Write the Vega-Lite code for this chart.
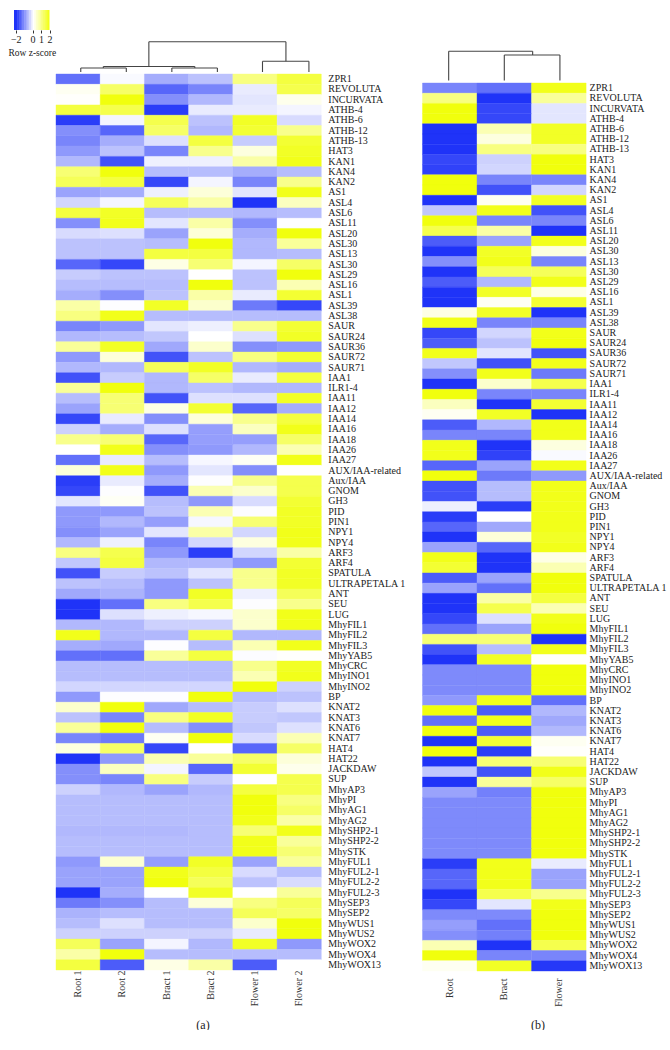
{"$schema":"https://vega.github.io/schema/vega-lite/v6.json","background":"white","padding":{"left":7,"top":10,"right":0,"bottom":0},"autosize":{"type":"pad"},"config":{"view":{"stroke":null},"font":"Liberation Serif"},"spacing":15.5,
"datasets":{
"key":[{"z":-2.2,"z2":-1.95},{"z":-2.0,"z2":-1.75},{"z":-1.8,"z2":-1.55},{"z":-1.6,"z2":-1.35},{"z":-1.4,"z2":-1.15},{"z":-1.2,"z2":-0.95},{"z":-1.0,"z2":-0.75},{"z":-0.8,"z2":-0.55},{"z":-0.6,"z2":-0.35},{"z":-0.4,"z2":-0.15},{"z":-0.2,"z2":0.05},{"z":0,"z2":0.25},{"z":0.2,"z2":0.45},{"z":0.4,"z2":0.65},{"z":0.6,"z2":0.85},{"z":0.8,"z2":1.05},{"z":1.0,"z2":1.25},{"z":1.2,"z2":1.45},{"z":1.4,"z2":1.65},{"z":1.6,"z2":1.85},{"z":1.8,"z2":2.0}],
"dendA":[{"x":2.1,"x2":5.2,"y":30.3,"y2":30.3},{"x":2.1,"x2":2.1,"y":5.5,"y2":30.3},{"x":5.2,"x2":5.2,"y":10.7,"y2":30.3},{"x":4.67,"x2":5.72,"y":10.7,"y2":10.7},{"x":4.67,"x2":4.67,"y":0,"y2":10.7},{"x":5.72,"x2":5.72,"y":0,"y2":10.7},{"x":1.07,"x2":3.14,"y":5.5,"y2":5.5},{"x":1.07,"x2":1.07,"y":4,"y2":5.5},{"x":3.14,"x2":3.14,"y":4,"y2":5.5},{"x":0.56,"x2":1.59,"y":4,"y2":4},{"x":0.56,"x2":0.56,"y":0,"y2":4},{"x":1.59,"x2":1.59,"y":0,"y2":4},{"x":2.62,"x2":3.65,"y":4,"y2":4},{"x":2.62,"x2":2.62,"y":0,"y2":4},{"x":3.65,"x2":3.65,"y":0,"y2":4}],
"dendB":[{"x":0.48,"x2":2.02,"y":30.7,"y2":30.7},{"x":0.48,"x2":0.48,"y":1.5,"y2":30.7},{"x":2.02,"x2":2.02,"y":27,"y2":30.7},{"x":1.5,"x2":2.52,"y":27,"y2":27},{"x":1.5,"x2":1.5,"y":1.5,"y2":27},{"x":2.52,"x2":2.52,"y":1.5,"y2":27}],
"a":[
{"gene":"ZPR1","col":"Root 1","z":-1.4},{"gene":"ZPR1","col":"Root 2","z":-0.05},{"gene":"ZPR1","col":"Bract 1","z":-0.8},{"gene":"ZPR1","col":"Bract 2","z":-0.6},{"gene":"ZPR1","col":"Flower 1","z":1.0},{"gene":"ZPR1","col":"Flower 2","z":1.5},
{"gene":"REVOLUTA","col":"Root 1","z":0.1},{"gene":"REVOLUTA","col":"Root 2","z":1.2},{"gene":"REVOLUTA","col":"Bract 1","z":-1.5},{"gene":"REVOLUTA","col":"Bract 2","z":-1.2},{"gene":"REVOLUTA","col":"Flower 1","z":-0.2},{"gene":"REVOLUTA","col":"Flower 2","z":1.4},
{"gene":"INCURVATA","col":"Root 1","z":0.02},{"gene":"INCURVATA","col":"Root 2","z":1.9},{"gene":"INCURVATA","col":"Bract 1","z":-1.1},{"gene":"INCURVATA","col":"Bract 2","z":-0.7},{"gene":"INCURVATA","col":"Flower 1","z":-0.25},{"gene":"INCURVATA","col":"Flower 2","z":0.15},
{"gene":"ATHB-4","col":"Root 1","z":1.5},{"gene":"ATHB-4","col":"Root 2","z":1.4},{"gene":"ATHB-4","col":"Bract 1","z":-1.9},{"gene":"ATHB-4","col":"Bract 2","z":-0.2},{"gene":"ATHB-4","col":"Flower 1","z":-0.2},{"gene":"ATHB-4","col":"Flower 2","z":-0.1},
{"gene":"ATHB-6","col":"Root 1","z":-1.9},{"gene":"ATHB-6","col":"Root 2","z":-0.1},{"gene":"ATHB-6","col":"Bract 1","z":1.4},{"gene":"ATHB-6","col":"Bract 2","z":-0.6},{"gene":"ATHB-6","col":"Flower 1","z":1.7},{"gene":"ATHB-6","col":"Flower 2","z":-0.35},
{"gene":"ATHB-12","col":"Root 1","z":-1.1},{"gene":"ATHB-12","col":"Root 2","z":-1.5},{"gene":"ATHB-12","col":"Bract 1","z":1.2},{"gene":"ATHB-12","col":"Bract 2","z":-0.7},{"gene":"ATHB-12","col":"Flower 1","z":1.6},{"gene":"ATHB-12","col":"Flower 2","z":0.9},
{"gene":"ATHB-13","col":"Root 1","z":-1.2},{"gene":"ATHB-13","col":"Root 2","z":-0.8},{"gene":"ATHB-13","col":"Bract 1","z":-0.3},{"gene":"ATHB-13","col":"Bract 2","z":1.5},{"gene":"ATHB-13","col":"Flower 1","z":-0.5},{"gene":"ATHB-13","col":"Flower 2","z":1.6},
{"gene":"HAT3","col":"Root 1","z":-1.0},{"gene":"HAT3","col":"Root 2","z":-0.6},{"gene":"HAT3","col":"Bract 1","z":-1.2},{"gene":"HAT3","col":"Bract 2","z":0.9},{"gene":"HAT3","col":"Flower 1","z":0.25},{"gene":"HAT3","col":"Flower 2","z":1.7},
{"gene":"KAN1","col":"Root 1","z":-0.7},{"gene":"KAN1","col":"Root 2","z":-1.7},{"gene":"KAN1","col":"Bract 1","z":-0.15},{"gene":"KAN1","col":"Bract 2","z":-0.15},{"gene":"KAN1","col":"Flower 1","z":0.7},{"gene":"KAN1","col":"Flower 2","z":1.8},
{"gene":"KAN4","col":"Root 1","z":1.1},{"gene":"KAN4","col":"Root 2","z":1.9},{"gene":"KAN4","col":"Bract 1","z":-0.65},{"gene":"KAN4","col":"Bract 2","z":-0.65},{"gene":"KAN4","col":"Flower 1","z":-0.8},{"gene":"KAN4","col":"Flower 2","z":-0.65},
{"gene":"KAN2","col":"Root 1","z":1.3},{"gene":"KAN2","col":"Root 2","z":1.5},{"gene":"KAN2","col":"Bract 1","z":-1.8},{"gene":"KAN2","col":"Bract 2","z":-0.1},{"gene":"KAN2","col":"Flower 1","z":-1.2},{"gene":"KAN2","col":"Flower 2","z":0.9},
{"gene":"AS1","col":"Root 1","z":-0.9},{"gene":"AS1","col":"Root 2","z":-0.8},{"gene":"AS1","col":"Bract 1","z":-0.15},{"gene":"AS1","col":"Bract 2","z":0.3},{"gene":"AS1","col":"Flower 1","z":-0.25},{"gene":"AS1","col":"Flower 2","z":1.8},
{"gene":"ASL4","col":"Root 1","z":-0.4},{"gene":"ASL4","col":"Root 2","z":-0.1},{"gene":"ASL4","col":"Bract 1","z":1.3},{"gene":"ASL4","col":"Bract 2","z":0.7},{"gene":"ASL4","col":"Flower 1","z":-2.0},{"gene":"ASL4","col":"Flower 2","z":0.5},
{"gene":"ASL6","col":"Root 1","z":1.5},{"gene":"ASL6","col":"Root 2","z":1.7},{"gene":"ASL6","col":"Bract 1","z":-0.65},{"gene":"ASL6","col":"Bract 2","z":-0.65},{"gene":"ASL6","col":"Flower 1","z":-0.7},{"gene":"ASL6","col":"Flower 2","z":-0.65},
{"gene":"ASL11","col":"Root 1","z":-1.1},{"gene":"ASL11","col":"Root 2","z":1.8},{"gene":"ASL11","col":"Bract 1","z":-0.25},{"gene":"ASL11","col":"Bract 2","z":0.7},{"gene":"ASL11","col":"Flower 1","z":-1.1},{"gene":"ASL11","col":"Flower 2","z":-0.02},
{"gene":"ASL20","col":"Root 1","z":-0.35},{"gene":"ASL20","col":"Root 2","z":-0.3},{"gene":"ASL20","col":"Bract 1","z":-0.9},{"gene":"ASL20","col":"Bract 2","z":0.3},{"gene":"ASL20","col":"Flower 1","z":-0.8},{"gene":"ASL20","col":"Flower 2","z":1.9},
{"gene":"ASL30","col":"Root 1","z":-0.6},{"gene":"ASL30","col":"Root 2","z":-0.6},{"gene":"ASL30","col":"Bract 1","z":-0.65},{"gene":"ASL30","col":"Bract 2","z":1.9},{"gene":"ASL30","col":"Flower 1","z":-0.7},{"gene":"ASL30","col":"Flower 2","z":0.8},
{"gene":"ASL13","col":"Root 1","z":-0.6},{"gene":"ASL13","col":"Root 2","z":-0.6},{"gene":"ASL13","col":"Bract 1","z":1.5},{"gene":"ASL13","col":"Bract 2","z":1.5},{"gene":"ASL13","col":"Flower 1","z":-0.7},{"gene":"ASL13","col":"Flower 2","z":-0.65},
{"gene":"ASL30 ","col":"Root 1","z":-1.5},{"gene":"ASL30 ","col":"Root 2","z":-1.8},{"gene":"ASL30 ","col":"Bract 1","z":0.2},{"gene":"ASL30 ","col":"Bract 2","z":1.1},{"gene":"ASL30 ","col":"Flower 1","z":-0.1},{"gene":"ASL30 ","col":"Flower 2","z":1.2},
{"gene":"ASL29","col":"Root 1","z":-0.5},{"gene":"ASL29","col":"Root 2","z":-0.6},{"gene":"ASL29","col":"Bract 1","z":-0.6},{"gene":"ASL29","col":"Bract 2","z":0},{"gene":"ASL29","col":"Flower 1","z":-0.6},{"gene":"ASL29","col":"Flower 2","z":1.9},
{"gene":"ASL16","col":"Root 1","z":-0.65},{"gene":"ASL16","col":"Root 2","z":-0.65},{"gene":"ASL16","col":"Bract 1","z":-0.65},{"gene":"ASL16","col":"Bract 2","z":1.9},{"gene":"ASL16","col":"Flower 1","z":-0.6},{"gene":"ASL16","col":"Flower 2","z":0.6},
{"gene":"ASL1","col":"Root 1","z":-0.8},{"gene":"ASL1","col":"Root 2","z":-1.1},{"gene":"ASL1","col":"Bract 1","z":-0.6},{"gene":"ASL1","col":"Bract 2","z":0.7},{"gene":"ASL1","col":"Flower 1","z":-0.2},{"gene":"ASL1","col":"Flower 2","z":1.6},
{"gene":"ASL39","col":"Root 1","z":0.7},{"gene":"ASL39","col":"Root 2","z":-0.02},{"gene":"ASL39","col":"Bract 1","z":1.7},{"gene":"ASL39","col":"Bract 2","z":0.4},{"gene":"ASL39","col":"Flower 1","z":-1.3},{"gene":"ASL39","col":"Flower 2","z":-1.8},
{"gene":"ASL38","col":"Root 1","z":1.0},{"gene":"ASL38","col":"Root 2","z":1.8},{"gene":"ASL38","col":"Bract 1","z":-0.65},{"gene":"ASL38","col":"Bract 2","z":-0.65},{"gene":"ASL38","col":"Flower 1","z":-0.65},{"gene":"ASL38","col":"Flower 2","z":-0.65},
{"gene":"SAUR","col":"Root 1","z":-1.2},{"gene":"SAUR","col":"Root 2","z":-1.0},{"gene":"SAUR","col":"Bract 1","z":-0.25},{"gene":"SAUR","col":"Bract 2","z":-0.15},{"gene":"SAUR","col":"Flower 1","z":0.9},{"gene":"SAUR","col":"Flower 2","z":1.6},
{"gene":"SAUR24","col":"Root 1","z":-0.7},{"gene":"SAUR24","col":"Root 2","z":-0.65},{"gene":"SAUR24","col":"Bract 1","z":-0.55},{"gene":"SAUR24","col":"Bract 2","z":0},{"gene":"SAUR24","col":"Flower 1","z":-0.3},{"gene":"SAUR24","col":"Flower 2","z":1.7},
{"gene":"SAUR36","col":"Root 1","z":0.8},{"gene":"SAUR36","col":"Root 2","z":1.7},{"gene":"SAUR36","col":"Bract 1","z":-0.85},{"gene":"SAUR36","col":"Bract 2","z":0.4},{"gene":"SAUR36","col":"Flower 1","z":-1.1},{"gene":"SAUR36","col":"Flower 2","z":-1.0},
{"gene":"SAUR72","col":"Root 1","z":-1.0},{"gene":"SAUR72","col":"Root 2","z":0.3},{"gene":"SAUR72","col":"Bract 1","z":-1.7},{"gene":"SAUR72","col":"Bract 2","z":-0.6},{"gene":"SAUR72","col":"Flower 1","z":1.0},{"gene":"SAUR72","col":"Flower 2","z":1.6},
{"gene":"SAUR71","col":"Root 1","z":-0.7},{"gene":"SAUR71","col":"Root 2","z":-0.7},{"gene":"SAUR71","col":"Bract 1","z":1.3},{"gene":"SAUR71","col":"Bract 2","z":1.7},{"gene":"SAUR71","col":"Flower 1","z":-0.7},{"gene":"SAUR71","col":"Flower 2","z":-0.8},
{"gene":"IAA1","col":"Root 1","z":-1.7},{"gene":"IAA1","col":"Root 2","z":-0.5},{"gene":"IAA1","col":"Bract 1","z":-0.7},{"gene":"IAA1","col":"Bract 2","z":1.2},{"gene":"IAA1","col":"Flower 1","z":-0.2},{"gene":"IAA1","col":"Flower 2","z":1.5},
{"gene":"ILR1-4","col":"Root 1","z":0.8},{"gene":"ILR1-4","col":"Root 2","z":1.9},{"gene":"ILR1-4","col":"Bract 1","z":-0.7},{"gene":"ILR1-4","col":"Bract 2","z":-0.6},{"gene":"ILR1-4","col":"Flower 1","z":-0.7},{"gene":"ILR1-4","col":"Flower 2","z":-0.7},
{"gene":"IAA11","col":"Root 1","z":-0.65},{"gene":"IAA11","col":"Root 2","z":1.1},{"gene":"IAA11","col":"Bract 1","z":-1.7},{"gene":"IAA11","col":"Bract 2","z":-0.3},{"gene":"IAA11","col":"Flower 1","z":-0.3},{"gene":"IAA11","col":"Flower 2","z":1.7},
{"gene":"IAA12","col":"Root 1","z":-0.9},{"gene":"IAA12","col":"Root 2","z":1.1},{"gene":"IAA12","col":"Bract 1","z":0.2},{"gene":"IAA12","col":"Bract 2","z":1.6},{"gene":"IAA12","col":"Flower 1","z":-1.5},{"gene":"IAA12","col":"Flower 2","z":-0.8},
{"gene":"IAA14","col":"Root 1","z":-1.8},{"gene":"IAA14","col":"Root 2","z":-0.2},{"gene":"IAA14","col":"Bract 1","z":-1.1},{"gene":"IAA14","col":"Bract 2","z":0.3},{"gene":"IAA14","col":"Flower 1","z":0.9},{"gene":"IAA14","col":"Flower 2","z":1.5},
{"gene":"IAA16","col":"Root 1","z":-0.45},{"gene":"IAA16","col":"Root 2","z":-0.8},{"gene":"IAA16","col":"Bract 1","z":-0.3},{"gene":"IAA16","col":"Bract 2","z":-0.95},{"gene":"IAA16","col":"Flower 1","z":0.5},{"gene":"IAA16","col":"Flower 2","z":1.8},
{"gene":"IAA18","col":"Root 1","z":0.9},{"gene":"IAA18","col":"Root 2","z":1.1},{"gene":"IAA18","col":"Bract 1","z":-1.5},{"gene":"IAA18","col":"Bract 2","z":-0.95},{"gene":"IAA18","col":"Flower 1","z":-0.95},{"gene":"IAA18","col":"Flower 2","z":1.2},
{"gene":"IAA26","col":"Root 1","z":0},{"gene":"IAA26","col":"Root 2","z":1.8},{"gene":"IAA26","col":"Bract 1","z":-1.1},{"gene":"IAA26","col":"Bract 2","z":-1.0},{"gene":"IAA26","col":"Flower 1","z":-0.7},{"gene":"IAA26","col":"Flower 2","z":0.6},
{"gene":"IAA27","col":"Root 1","z":-1.4},{"gene":"IAA27","col":"Root 2","z":-0.2},{"gene":"IAA27","col":"Bract 1","z":-0.65},{"gene":"IAA27","col":"Bract 2","z":-0.08},{"gene":"IAA27","col":"Flower 1","z":0.08},{"gene":"IAA27","col":"Flower 2","z":1.8},
{"gene":"AUX/IAA-related","col":"Root 1","z":0.3},{"gene":"AUX/IAA-related","col":"Root 2","z":1.8},{"gene":"AUX/IAA-related","col":"Bract 1","z":-1.0},{"gene":"AUX/IAA-related","col":"Bract 2","z":-0.25},{"gene":"AUX/IAA-related","col":"Flower 1","z":-1.1},{"gene":"AUX/IAA-related","col":"Flower 2","z":0},
{"gene":"Aux/IAA","col":"Root 1","z":-1.9},{"gene":"Aux/IAA","col":"Root 2","z":-0.2},{"gene":"Aux/IAA","col":"Bract 1","z":-0.8},{"gene":"Aux/IAA","col":"Bract 2","z":-0.02},{"gene":"Aux/IAA","col":"Flower 1","z":0.9},{"gene":"Aux/IAA","col":"Flower 2","z":1.4},
{"gene":"GNOM","col":"Root 1","z":-1.8},{"gene":"GNOM","col":"Root 2","z":-0.02},{"gene":"GNOM","col":"Bract 1","z":-1.7},{"gene":"GNOM","col":"Bract 2","z":0.6},{"gene":"GNOM","col":"Flower 1","z":0.4},{"gene":"GNOM","col":"Flower 2","z":1.4},
{"gene":"GH3","col":"Root 1","z":-0.25},{"gene":"GH3","col":"Root 2","z":0.08},{"gene":"GH3","col":"Bract 1","z":-0.65},{"gene":"GH3","col":"Bract 2","z":-1.0},{"gene":"GH3","col":"Flower 1","z":-0.35},{"gene":"GH3","col":"Flower 2","z":1.6},
{"gene":"PID","col":"Root 1","z":-1.0},{"gene":"PID","col":"Root 2","z":-1.0},{"gene":"PID","col":"Bract 1","z":-0.6},{"gene":"PID","col":"Bract 2","z":0.6},{"gene":"PID","col":"Flower 1","z":-0.03},{"gene":"PID","col":"Flower 2","z":1.7},
{"gene":"PIN1","col":"Root 1","z":-1.0},{"gene":"PIN1","col":"Root 2","z":-0.7},{"gene":"PIN1","col":"Bract 1","z":-0.95},{"gene":"PIN1","col":"Bract 2","z":-0.08},{"gene":"PIN1","col":"Flower 1","z":1.1},{"gene":"PIN1","col":"Flower 2","z":1.7},
{"gene":"NPY1","col":"Root 1","z":-1.1},{"gene":"NPY1","col":"Root 2","z":-0.9},{"gene":"NPY1","col":"Bract 1","z":-0.25},{"gene":"NPY1","col":"Bract 2","z":0.7},{"gene":"NPY1","col":"Flower 1","z":-0.4},{"gene":"NPY1","col":"Flower 2","z":1.8},
{"gene":"NPY4","col":"Root 1","z":-0.7},{"gene":"NPY4","col":"Root 2","z":-0.15},{"gene":"NPY4","col":"Bract 1","z":-1.2},{"gene":"NPY4","col":"Bract 2","z":-0.4},{"gene":"NPY4","col":"Flower 1","z":0.25},{"gene":"NPY4","col":"Flower 2","z":1.8},
{"gene":"ARF3","col":"Root 1","z":1.0},{"gene":"ARF3","col":"Root 2","z":1.4},{"gene":"ARF3","col":"Bract 1","z":-1.0},{"gene":"ARF3","col":"Bract 2","z":-1.9},{"gene":"ARF3","col":"Flower 1","z":-0.4},{"gene":"ARF3","col":"Flower 2","z":0.7},
{"gene":"ARF4","col":"Root 1","z":-0.55},{"gene":"ARF4","col":"Root 2","z":1.5},{"gene":"ARF4","col":"Bract 1","z":-0.7},{"gene":"ARF4","col":"Bract 2","z":-0.7},{"gene":"ARF4","col":"Flower 1","z":-1.0},{"gene":"ARF4","col":"Flower 2","z":1.6},
{"gene":"SPATULA","col":"Root 1","z":-1.7},{"gene":"SPATULA","col":"Root 2","z":-0.5},{"gene":"SPATULA","col":"Bract 1","z":-0.6},{"gene":"SPATULA","col":"Bract 2","z":-0.25},{"gene":"SPATULA","col":"Flower 1","z":0.9},{"gene":"SPATULA","col":"Flower 2","z":1.7},
{"gene":"ULTRAPETALA 1","col":"Root 1","z":-0.6},{"gene":"ULTRAPETALA 1","col":"Root 2","z":-0.65},{"gene":"ULTRAPETALA 1","col":"Bract 1","z":-1.0},{"gene":"ULTRAPETALA 1","col":"Bract 2","z":-0.6},{"gene":"ULTRAPETALA 1","col":"Flower 1","z":0.9},{"gene":"ULTRAPETALA 1","col":"Flower 2","z":1.7},
{"gene":"ANT","col":"Root 1","z":-0.85},{"gene":"ANT","col":"Root 2","z":-0.75},{"gene":"ANT","col":"Bract 1","z":-1.0},{"gene":"ANT","col":"Bract 2","z":1.7},{"gene":"ANT","col":"Flower 1","z":-0.15},{"gene":"ANT","col":"Flower 2","z":1.3},
{"gene":"SEU","col":"Root 1","z":-2.0},{"gene":"SEU","col":"Root 2","z":-1.4},{"gene":"SEU","col":"Bract 1","z":1.0},{"gene":"SEU","col":"Bract 2","z":1.4},{"gene":"SEU","col":"Flower 1","z":-0.02},{"gene":"SEU","col":"Flower 2","z":0.9},
{"gene":"LUG","col":"Root 1","z":-2.0},{"gene":"LUG","col":"Root 2","z":-0.3},{"gene":"LUG","col":"Bract 1","z":-0.15},{"gene":"LUG","col":"Bract 2","z":-0.08},{"gene":"LUG","col":"Flower 1","z":0.4},{"gene":"LUG","col":"Flower 2","z":1.8},
{"gene":"MhyFIL1","col":"Root 1","z":-0.7},{"gene":"MhyFIL1","col":"Root 2","z":-0.7},{"gene":"MhyFIL1","col":"Bract 1","z":-0.45},{"gene":"MhyFIL1","col":"Bract 2","z":-0.45},{"gene":"MhyFIL1","col":"Flower 1","z":0.4},{"gene":"MhyFIL1","col":"Flower 2","z":1.8},
{"gene":"MhyFIL2","col":"Root 1","z":1.8},{"gene":"MhyFIL2","col":"Root 2","z":-0.7},{"gene":"MhyFIL2","col":"Bract 1","z":-0.7},{"gene":"MhyFIL2","col":"Bract 2","z":1.5},{"gene":"MhyFIL2","col":"Flower 1","z":-0.7},{"gene":"MhyFIL2","col":"Flower 2","z":-0.7},
{"gene":"MhyFIL3","col":"Root 1","z":-0.8},{"gene":"MhyFIL3","col":"Root 2","z":-0.85},{"gene":"MhyFIL3","col":"Bract 1","z":-0.02},{"gene":"MhyFIL3","col":"Bract 2","z":-0.65},{"gene":"MhyFIL3","col":"Flower 1","z":0.6},{"gene":"MhyFIL3","col":"Flower 2","z":1.8},
{"gene":"MhyYAB5","col":"Root 1","z":-1.4},{"gene":"MhyYAB5","col":"Root 2","z":-1.4},{"gene":"MhyYAB5","col":"Bract 1","z":0.8},{"gene":"MhyYAB5","col":"Bract 2","z":1.5},{"gene":"MhyYAB5","col":"Flower 1","z":-0.03},{"gene":"MhyYAB5","col":"Flower 2","z":0.02},
{"gene":"MhyCRC","col":"Root 1","z":-0.65},{"gene":"MhyCRC","col":"Root 2","z":-0.65},{"gene":"MhyCRC","col":"Bract 1","z":-0.65},{"gene":"MhyCRC","col":"Bract 2","z":-0.65},{"gene":"MhyCRC","col":"Flower 1","z":0.9},{"gene":"MhyCRC","col":"Flower 2","z":1.7},
{"gene":"MhyINO1","col":"Root 1","z":-0.65},{"gene":"MhyINO1","col":"Root 2","z":-0.65},{"gene":"MhyINO1","col":"Bract 1","z":-0.65},{"gene":"MhyINO1","col":"Bract 2","z":-0.65},{"gene":"MhyINO1","col":"Flower 1","z":0.6},{"gene":"MhyINO1","col":"Flower 2","z":1.8},
{"gene":"MhyINO2","col":"Root 1","z":-0.4},{"gene":"MhyINO2","col":"Root 2","z":-0.4},{"gene":"MhyINO2","col":"Bract 1","z":-0.4},{"gene":"MhyINO2","col":"Bract 2","z":-0.4},{"gene":"MhyINO2","col":"Flower 1","z":1.9},{"gene":"MhyINO2","col":"Flower 2","z":-0.45},
{"gene":"BP","col":"Root 1","z":-1.0},{"gene":"BP","col":"Root 2","z":-0.02},{"gene":"BP","col":"Bract 1","z":-0.02},{"gene":"BP","col":"Bract 2","z":1.9},{"gene":"BP","col":"Flower 1","z":-0.65},{"gene":"BP","col":"Flower 2","z":-0.6},
{"gene":"KNAT2","col":"Root 1","z":0.4},{"gene":"KNAT2","col":"Root 2","z":1.9},{"gene":"KNAT2","col":"Bract 1","z":-0.85},{"gene":"KNAT2","col":"Bract 2","z":-0.65},{"gene":"KNAT2","col":"Flower 1","z":-0.5},{"gene":"KNAT2","col":"Flower 2","z":-0.3},
{"gene":"KNAT3","col":"Root 1","z":-0.6},{"gene":"KNAT3","col":"Root 2","z":-1.2},{"gene":"KNAT3","col":"Bract 1","z":1.0},{"gene":"KNAT3","col":"Bract 2","z":1.7},{"gene":"KNAT3","col":"Flower 1","z":-0.5},{"gene":"KNAT3","col":"Flower 2","z":-0.55},
{"gene":"KNAT6","col":"Root 1","z":0.8},{"gene":"KNAT6","col":"Root 2","z":1.9},{"gene":"KNAT6","col":"Bract 1","z":-0.65},{"gene":"KNAT6","col":"Bract 2","z":-1.1},{"gene":"KNAT6","col":"Flower 1","z":-0.55},{"gene":"KNAT6","col":"Flower 2","z":-0.3},
{"gene":"KNAT7","col":"Root 1","z":-1.2},{"gene":"KNAT7","col":"Root 2","z":-1.3},{"gene":"KNAT7","col":"Bract 1","z":0.1},{"gene":"KNAT7","col":"Bract 2","z":1.9},{"gene":"KNAT7","col":"Flower 1","z":-0.35},{"gene":"KNAT7","col":"Flower 2","z":0.6},
{"gene":"HAT4","col":"Root 1","z":0.25},{"gene":"HAT4","col":"Root 2","z":1.2},{"gene":"HAT4","col":"Bract 1","z":-1.8},{"gene":"HAT4","col":"Bract 2","z":0},{"gene":"HAT4","col":"Flower 1","z":-1.5},{"gene":"HAT4","col":"Flower 2","z":1.2},
{"gene":"HAT22","col":"Root 1","z":-2.0},{"gene":"HAT22","col":"Root 2","z":-1.0},{"gene":"HAT22","col":"Bract 1","z":0.6},{"gene":"HAT22","col":"Bract 2","z":0.8},{"gene":"HAT22","col":"Flower 1","z":1.2},{"gene":"HAT22","col":"Flower 2","z":0.3},
{"gene":"JACKDAW","col":"Root 1","z":-1.1},{"gene":"JACKDAW","col":"Root 2","z":0.5},{"gene":"JACKDAW","col":"Bract 1","z":-0.1},{"gene":"JACKDAW","col":"Bract 2","z":-1.5},{"gene":"JACKDAW","col":"Flower 1","z":1.6},{"gene":"JACKDAW","col":"Flower 2","z":0.15},
{"gene":"SUP","col":"Root 1","z":-1.1},{"gene":"SUP","col":"Root 2","z":-1.2},{"gene":"SUP","col":"Bract 1","z":1.0},{"gene":"SUP","col":"Bract 2","z":-0.5},{"gene":"SUP","col":"Flower 1","z":0},{"gene":"SUP","col":"Flower 2","z":1.4},
{"gene":"MhyAP3","col":"Root 1","z":-0.45},{"gene":"MhyAP3","col":"Root 2","z":-0.7},{"gene":"MhyAP3","col":"Bract 1","z":-0.9},{"gene":"MhyAP3","col":"Bract 2","z":-0.7},{"gene":"MhyAP3","col":"Flower 1","z":1.5},{"gene":"MhyAP3","col":"Flower 2","z":1.4},
{"gene":"MhyPI","col":"Root 1","z":-0.65},{"gene":"MhyPI","col":"Root 2","z":-0.65},{"gene":"MhyPI","col":"Bract 1","z":-0.65},{"gene":"MhyPI","col":"Bract 2","z":-0.65},{"gene":"MhyPI","col":"Flower 1","z":1.9},{"gene":"MhyPI","col":"Flower 2","z":1.0},
{"gene":"MhyAG1","col":"Root 1","z":-0.65},{"gene":"MhyAG1","col":"Root 2","z":-0.65},{"gene":"MhyAG1","col":"Bract 1","z":-0.65},{"gene":"MhyAG1","col":"Bract 2","z":-0.65},{"gene":"MhyAG1","col":"Flower 1","z":1.9},{"gene":"MhyAG1","col":"Flower 2","z":1.2},
{"gene":"MhyAG2","col":"Root 1","z":-0.65},{"gene":"MhyAG2","col":"Root 2","z":-0.65},{"gene":"MhyAG2","col":"Bract 1","z":-0.65},{"gene":"MhyAG2","col":"Bract 2","z":-0.65},{"gene":"MhyAG2","col":"Flower 1","z":1.8},{"gene":"MhyAG2","col":"Flower 2","z":0.7},
{"gene":"MhySHP2-1","col":"Root 1","z":-0.7},{"gene":"MhySHP2-1","col":"Root 2","z":-0.7},{"gene":"MhySHP2-1","col":"Bract 1","z":-0.7},{"gene":"MhySHP2-1","col":"Bract 2","z":-0.65},{"gene":"MhySHP2-1","col":"Flower 1","z":1.1},{"gene":"MhySHP2-1","col":"Flower 2","z":1.8},
{"gene":"MhySHP2-2","col":"Root 1","z":-0.65},{"gene":"MhySHP2-2","col":"Root 2","z":-0.65},{"gene":"MhySHP2-2","col":"Bract 1","z":-0.65},{"gene":"MhySHP2-2","col":"Bract 2","z":-0.65},{"gene":"MhySHP2-2","col":"Flower 1","z":1.8},{"gene":"MhySHP2-2","col":"Flower 2","z":0.8},
{"gene":"MhySTK","col":"Root 1","z":-0.65},{"gene":"MhySTK","col":"Root 2","z":-0.65},{"gene":"MhySTK","col":"Bract 1","z":-0.65},{"gene":"MhySTK","col":"Bract 2","z":-0.65},{"gene":"MhySTK","col":"Flower 1","z":1.8},{"gene":"MhySTK","col":"Flower 2","z":1.1},
{"gene":"MhyFUL1","col":"Root 1","z":-1.0},{"gene":"MhyFUL1","col":"Root 2","z":0.35},{"gene":"MhyFUL1","col":"Bract 1","z":-0.95},{"gene":"MhyFUL1","col":"Bract 2","z":1.7},{"gene":"MhyFUL1","col":"Flower 1","z":-0.9},{"gene":"MhyFUL1","col":"Flower 2","z":0.8},
{"gene":"MhyFUL2-1","col":"Root 1","z":-0.9},{"gene":"MhyFUL2-1","col":"Root 2","z":-0.9},{"gene":"MhyFUL2-1","col":"Bract 1","z":1.8},{"gene":"MhyFUL2-1","col":"Bract 2","z":1.5},{"gene":"MhyFUL2-1","col":"Flower 1","z":-0.35},{"gene":"MhyFUL2-1","col":"Flower 2","z":-0.65},
{"gene":"MhyFUL2-2","col":"Root 1","z":-0.9},{"gene":"MhyFUL2-2","col":"Root 2","z":-0.9},{"gene":"MhyFUL2-2","col":"Bract 1","z":1.9},{"gene":"MhyFUL2-2","col":"Bract 2","z":1.3},{"gene":"MhyFUL2-2","col":"Flower 1","z":-0.6},{"gene":"MhyFUL2-2","col":"Flower 2","z":-0.35},
{"gene":"MhyFUL2-3","col":"Root 1","z":-2.0},{"gene":"MhyFUL2-3","col":"Root 2","z":-0.8},{"gene":"MhyFUL2-3","col":"Bract 1","z":0},{"gene":"MhyFUL2-3","col":"Bract 2","z":1.7},{"gene":"MhyFUL2-3","col":"Flower 1","z":0},{"gene":"MhyFUL2-3","col":"Flower 2","z":0.8},
{"gene":"MhySEP3","col":"Root 1","z":-1.3},{"gene":"MhySEP3","col":"Root 2","z":-1.1},{"gene":"MhySEP3","col":"Bract 1","z":-0.65},{"gene":"MhySEP3","col":"Bract 2","z":0.3},{"gene":"MhySEP3","col":"Flower 1","z":1.0},{"gene":"MhySEP3","col":"Flower 2","z":1.3},
{"gene":"MhySEP2","col":"Root 1","z":-0.75},{"gene":"MhySEP2","col":"Root 2","z":-0.65},{"gene":"MhySEP2","col":"Bract 1","z":-0.65},{"gene":"MhySEP2","col":"Bract 2","z":-0.65},{"gene":"MhySEP2","col":"Flower 1","z":1.3},{"gene":"MhySEP2","col":"Flower 2","z":1.2},
{"gene":"MhyWUS1","col":"Root 1","z":-0.65},{"gene":"MhyWUS1","col":"Root 2","z":-0.3},{"gene":"MhyWUS1","col":"Bract 1","z":-0.65},{"gene":"MhyWUS1","col":"Bract 2","z":-0.65},{"gene":"MhyWUS1","col":"Flower 1","z":0.4},{"gene":"MhyWUS1","col":"Flower 2","z":1.9},
{"gene":"MhyWUS2","col":"Root 1","z":-0.45},{"gene":"MhyWUS2","col":"Root 2","z":-0.45},{"gene":"MhyWUS2","col":"Bract 1","z":-0.45},{"gene":"MhyWUS2","col":"Bract 2","z":-0.45},{"gene":"MhyWUS2","col":"Flower 1","z":-0.2},{"gene":"MhyWUS2","col":"Flower 2","z":1.9},
{"gene":"MhyWOX2","col":"Root 1","z":1.3},{"gene":"MhyWOX2","col":"Root 2","z":-0.9},{"gene":"MhyWOX2","col":"Bract 1","z":-0.1},{"gene":"MhyWOX2","col":"Bract 2","z":-0.7},{"gene":"MhyWOX2","col":"Flower 1","z":1.7},{"gene":"MhyWOX2","col":"Flower 2","z":-1.0},
{"gene":"MhyWOX4","col":"Root 1","z":0.7},{"gene":"MhyWOX4","col":"Root 2","z":1.9},{"gene":"MhyWOX4","col":"Bract 1","z":-0.65},{"gene":"MhyWOX4","col":"Bract 2","z":-0.65},{"gene":"MhyWOX4","col":"Flower 1","z":-0.65},{"gene":"MhyWOX4","col":"Flower 2","z":-0.65},
{"gene":"MhyWOX13","col":"Root 1","z":1.5},{"gene":"MhyWOX13","col":"Root 2","z":-1.6},{"gene":"MhyWOX13","col":"Bract 1","z":0.2},{"gene":"MhyWOX13","col":"Bract 2","z":0.7},{"gene":"MhyWOX13","col":"Flower 1","z":-1.6},{"gene":"MhyWOX13","col":"Flower 2","z":0}
],
"b":[
{"gene":"ZPR1","col":"Root","z":-1.2},{"gene":"ZPR1","col":"Bract","z":-1.4},{"gene":"ZPR1","col":"Flower","z":1.8},
{"gene":"REVOLUTA","col":"Root","z":1.0},{"gene":"REVOLUTA","col":"Bract","z":-2},{"gene":"REVOLUTA","col":"Flower","z":0.8},
{"gene":"INCURVATA","col":"Root","z":1.9},{"gene":"INCURVATA","col":"Bract","z":-1.8},{"gene":"INCURVATA","col":"Flower","z":-0.25},
{"gene":"ATHB-4","col":"Root","z":1.9},{"gene":"ATHB-4","col":"Bract","z":-1.8},{"gene":"ATHB-4","col":"Flower","z":-0.25},
{"gene":"ATHB-6","col":"Root","z":-2},{"gene":"ATHB-6","col":"Bract","z":0.6},{"gene":"ATHB-6","col":"Flower","z":1.7},
{"gene":"ATHB-12","col":"Root","z":-2},{"gene":"ATHB-12","col":"Bract","z":0.25},{"gene":"ATHB-12","col":"Flower","z":1.7},
{"gene":"ATHB-13","col":"Root","z":-2},{"gene":"ATHB-13","col":"Bract","z":1.0},{"gene":"ATHB-13","col":"Flower","z":1.0},
{"gene":"HAT3","col":"Root","z":-1.8},{"gene":"HAT3","col":"Bract","z":-0.45},{"gene":"HAT3","col":"Flower","z":1.9},
{"gene":"KAN1","col":"Root","z":-1.85},{"gene":"KAN1","col":"Bract","z":-0.4},{"gene":"KAN1","col":"Flower","z":1.9},
{"gene":"KAN4","col":"Root","z":1.9},{"gene":"KAN4","col":"Bract","z":-1.2},{"gene":"KAN4","col":"Flower","z":-1.2},
{"gene":"KAN2","col":"Root","z":1.9},{"gene":"KAN2","col":"Bract","z":-1.7},{"gene":"KAN2","col":"Flower","z":-0.4},
{"gene":"AS1","col":"Root","z":-2},{"gene":"AS1","col":"Bract","z":0.1},{"gene":"AS1","col":"Flower","z":1.7},
{"gene":"ASL4","col":"Root","z":-0.55},{"gene":"ASL4","col":"Bract","z":1.8},{"gene":"ASL4","col":"Flower","z":-1.7},
{"gene":"ASL6","col":"Root","z":1.9},{"gene":"ASL6","col":"Bract","z":-1.2},{"gene":"ASL6","col":"Flower","z":-1.2},
{"gene":"ASL11","col":"Root","z":1.4},{"gene":"ASL11","col":"Bract","z":0.7},{"gene":"ASL11","col":"Flower","z":-2},
{"gene":"ASL20","col":"Root","z":-1.6},{"gene":"ASL20","col":"Bract","z":-0.9},{"gene":"ASL20","col":"Flower","z":1.8},
{"gene":"ASL30","col":"Root","z":-2},{"gene":"ASL30","col":"Bract","z":1.7},{"gene":"ASL30","col":"Flower","z":0.25},
{"gene":"ASL13","col":"Root","z":-1.1},{"gene":"ASL13","col":"Bract","z":1.8},{"gene":"ASL13","col":"Flower","z":-1.2},
{"gene":"ASL30 ","col":"Root","z":-2},{"gene":"ASL30 ","col":"Bract","z":1.3},{"gene":"ASL30 ","col":"Flower","z":1.3},
{"gene":"ASL29","col":"Root","z":-1.6},{"gene":"ASL29","col":"Bract","z":-0.7},{"gene":"ASL29","col":"Flower","z":1.8},
{"gene":"ASL16","col":"Root","z":-2},{"gene":"ASL16","col":"Bract","z":1.7},{"gene":"ASL16","col":"Flower","z":0.2},
{"gene":"ASL1","col":"Root","z":-2},{"gene":"ASL1","col":"Bract","z":0.1},{"gene":"ASL1","col":"Flower","z":1.6},
{"gene":"ASL39","col":"Root","z":0.2},{"gene":"ASL39","col":"Bract","z":1.7},{"gene":"ASL39","col":"Flower","z":-2},
{"gene":"ASL38","col":"Root","z":1.8},{"gene":"ASL38","col":"Bract","z":-1.2},{"gene":"ASL38","col":"Flower","z":-1.2},
{"gene":"SAUR","col":"Root","z":-1.8},{"gene":"SAUR","col":"Bract","z":-0.4},{"gene":"SAUR","col":"Flower","z":1.8},
{"gene":"SAUR24","col":"Root","z":-1.6},{"gene":"SAUR24","col":"Bract","z":-0.6},{"gene":"SAUR24","col":"Flower","z":1.9},
{"gene":"SAUR36","col":"Root","z":1.8},{"gene":"SAUR36","col":"Bract","z":-0.25},{"gene":"SAUR36","col":"Flower","z":-1.7},
{"gene":"SAUR72","col":"Root","z":-0.55},{"gene":"SAUR72","col":"Bract","z":-1.7},{"gene":"SAUR72","col":"Flower","z":1.8},
{"gene":"SAUR71","col":"Root","z":-1.1},{"gene":"SAUR71","col":"Bract","z":1.8},{"gene":"SAUR71","col":"Flower","z":-1.3},
{"gene":"IAA1","col":"Root","z":-2},{"gene":"IAA1","col":"Bract","z":0.4},{"gene":"IAA1","col":"Flower","z":1.4},
{"gene":"ILR1-4","col":"Root","z":1.9},{"gene":"ILR1-4","col":"Bract","z":-1.2},{"gene":"ILR1-4","col":"Flower","z":-1.2},
{"gene":"IAA11","col":"Root","z":0.5},{"gene":"IAA11","col":"Bract","z":-2},{"gene":"IAA11","col":"Flower","z":1.6},
{"gene":"IAA12","col":"Root","z":0.1},{"gene":"IAA12","col":"Bract","z":1.7},{"gene":"IAA12","col":"Flower","z":-2},
{"gene":"IAA14","col":"Root","z":-1.6},{"gene":"IAA14","col":"Bract","z":-0.7},{"gene":"IAA14","col":"Flower","z":1.8},
{"gene":"IAA16","col":"Root","z":-1.2},{"gene":"IAA16","col":"Bract","z":-1.2},{"gene":"IAA16","col":"Flower","z":1.8},
{"gene":"IAA18","col":"Root","z":1.8},{"gene":"IAA18","col":"Bract","z":-2},{"gene":"IAA18","col":"Flower","z":0.25},
{"gene":"IAA26","col":"Root","z":1.8},{"gene":"IAA26","col":"Bract","z":-1.85},{"gene":"IAA26","col":"Flower","z":-0.05},
{"gene":"IAA27","col":"Root","z":-1.5},{"gene":"IAA27","col":"Bract","z":-0.9},{"gene":"IAA27","col":"Flower","z":1.8},
{"gene":"AUX/IAA-related","col":"Root","z":1.9},{"gene":"AUX/IAA-related","col":"Bract","z":-1.3},{"gene":"AUX/IAA-related","col":"Flower","z":-1.0},
{"gene":"Aux/IAA","col":"Root","z":-1.7},{"gene":"Aux/IAA","col":"Bract","z":-0.65},{"gene":"Aux/IAA","col":"Flower","z":1.8},
{"gene":"GNOM","col":"Root","z":-1.7},{"gene":"GNOM","col":"Bract","z":-0.65},{"gene":"GNOM","col":"Flower","z":1.8},
{"gene":"GH3","col":"Root","z":-0.15},{"gene":"GH3","col":"Bract","z":-1.9},{"gene":"GH3","col":"Flower","z":1.8},
{"gene":"PID","col":"Root","z":-1.9},{"gene":"PID","col":"Bract","z":0},{"gene":"PID","col":"Flower","z":1.8},
{"gene":"PIN1","col":"Root","z":-1.5},{"gene":"PIN1","col":"Bract","z":-0.85},{"gene":"PIN1","col":"Flower","z":1.8},
{"gene":"NPY1","col":"Root","z":-2},{"gene":"NPY1","col":"Bract","z":0.3},{"gene":"NPY1","col":"Flower","z":1.7},
{"gene":"NPY4","col":"Root","z":-0.9},{"gene":"NPY4","col":"Bract","z":-1.5},{"gene":"NPY4","col":"Flower","z":1.8},
{"gene":"ARF3","col":"Root","z":1.8},{"gene":"ARF3","col":"Bract","z":-2},{"gene":"ARF3","col":"Flower","z":0.2},
{"gene":"ARF4","col":"Root","z":1.6},{"gene":"ARF4","col":"Bract","z":-2},{"gene":"ARF4","col":"Flower","z":0.6},
{"gene":"SPATULA","col":"Root","z":-1.6},{"gene":"SPATULA","col":"Bract","z":-0.9},{"gene":"SPATULA","col":"Flower","z":1.9},
{"gene":"ULTRAPETALA 1","col":"Root","z":-0.9},{"gene":"ULTRAPETALA 1","col":"Bract","z":-1.4},{"gene":"ULTRAPETALA 1","col":"Flower","z":1.9},
{"gene":"ANT","col":"Root","z":-2},{"gene":"ANT","col":"Bract","z":0.7},{"gene":"ANT","col":"Flower","z":1.5},
{"gene":"SEU","col":"Root","z":-2},{"gene":"SEU","col":"Bract","z":1.4},{"gene":"SEU","col":"Flower","z":0.6},
{"gene":"LUG","col":"Root","z":-1.8},{"gene":"LUG","col":"Bract","z":-0.3},{"gene":"LUG","col":"Flower","z":1.8},
{"gene":"MhyFIL1","col":"Root","z":-1.4},{"gene":"MhyFIL1","col":"Bract","z":-0.9},{"gene":"MhyFIL1","col":"Flower","z":1.9},
{"gene":"MhyFIL2","col":"Root","z":1.1},{"gene":"MhyFIL2","col":"Bract","z":1.1},{"gene":"MhyFIL2","col":"Flower","z":-2},
{"gene":"MhyFIL3","col":"Root","z":-1.7},{"gene":"MhyFIL3","col":"Bract","z":-0.65},{"gene":"MhyFIL3","col":"Flower","z":1.8},
{"gene":"MhyYAB5","col":"Root","z":-2},{"gene":"MhyYAB5","col":"Bract","z":1.7},{"gene":"MhyYAB5","col":"Flower","z":0.05},
{"gene":"MhyCRC","col":"Root","z":-1.15},{"gene":"MhyCRC","col":"Bract","z":-1.15},{"gene":"MhyCRC","col":"Flower","z":1.9},
{"gene":"MhyINO1","col":"Root","z":-1.15},{"gene":"MhyINO1","col":"Bract","z":-1.15},{"gene":"MhyINO1","col":"Flower","z":1.9},
{"gene":"MhyINO2","col":"Root","z":-1.15},{"gene":"MhyINO2","col":"Bract","z":-1.15},{"gene":"MhyINO2","col":"Flower","z":1.9},
{"gene":"BP","col":"Root","z":-1.0},{"gene":"BP","col":"Bract","z":1.8},{"gene":"BP","col":"Flower","z":-1.4},
{"gene":"KNAT2","col":"Root","z":1.9},{"gene":"KNAT2","col":"Bract","z":-1.6},{"gene":"KNAT2","col":"Flower","z":-0.7},
{"gene":"KNAT3","col":"Root","z":-1.4},{"gene":"KNAT3","col":"Bract","z":1.8},{"gene":"KNAT3","col":"Flower","z":-0.85},
{"gene":"KNAT6","col":"Root","z":1.9},{"gene":"KNAT6","col":"Bract","z":-1.6},{"gene":"KNAT6","col":"Flower","z":-0.7},
{"gene":"KNAT7","col":"Root","z":-2},{"gene":"KNAT7","col":"Bract","z":1.6},{"gene":"KNAT7","col":"Flower","z":0.1},
{"gene":"HAT4","col":"Root","z":1.9},{"gene":"HAT4","col":"Bract","z":-1.9},{"gene":"HAT4","col":"Flower","z":0.02},
{"gene":"HAT22","col":"Root","z":-2},{"gene":"HAT22","col":"Bract","z":1.1},{"gene":"HAT22","col":"Flower","z":1.1},
{"gene":"JACKDAW","col":"Root","z":-0.55},{"gene":"JACKDAW","col":"Bract","z":-1.7},{"gene":"JACKDAW","col":"Flower","z":1.8},
{"gene":"SUP","col":"Root","z":-2},{"gene":"SUP","col":"Bract","z":0.8},{"gene":"SUP","col":"Flower","z":1.2},
{"gene":"MhyAP3","col":"Root","z":-0.9},{"gene":"MhyAP3","col":"Bract","z":-1.25},{"gene":"MhyAP3","col":"Flower","z":1.9},
{"gene":"MhyPI","col":"Root","z":-1.15},{"gene":"MhyPI","col":"Bract","z":-1.15},{"gene":"MhyPI","col":"Flower","z":1.9},
{"gene":"MhyAG1","col":"Root","z":-1.15},{"gene":"MhyAG1","col":"Bract","z":-1.15},{"gene":"MhyAG1","col":"Flower","z":1.9},
{"gene":"MhyAG2","col":"Root","z":-1.15},{"gene":"MhyAG2","col":"Bract","z":-1.15},{"gene":"MhyAG2","col":"Flower","z":1.9},
{"gene":"MhySHP2-1","col":"Root","z":-1.15},{"gene":"MhySHP2-1","col":"Bract","z":-1.15},{"gene":"MhySHP2-1","col":"Flower","z":1.9},
{"gene":"MhySHP2-2","col":"Root","z":-1.15},{"gene":"MhySHP2-2","col":"Bract","z":-1.15},{"gene":"MhySHP2-2","col":"Flower","z":1.9},
{"gene":"MhySTK","col":"Root","z":-1.15},{"gene":"MhySTK","col":"Bract","z":-1.15},{"gene":"MhySTK","col":"Flower","z":1.9},
{"gene":"MhyFUL1","col":"Root","z":-1.9},{"gene":"MhyFUL1","col":"Bract","z":1.8},{"gene":"MhyFUL1","col":"Flower","z":-0.2},
{"gene":"MhyFUL2-1","col":"Root","z":-1.5},{"gene":"MhyFUL2-1","col":"Bract","z":1.8},{"gene":"MhyFUL2-1","col":"Flower","z":-0.9},
{"gene":"MhyFUL2-2","col":"Root","z":-1.5},{"gene":"MhyFUL2-2","col":"Bract","z":1.8},{"gene":"MhyFUL2-2","col":"Flower","z":-0.9},
{"gene":"MhyFUL2-3","col":"Root","z":-2},{"gene":"MhyFUL2-3","col":"Bract","z":1.4},{"gene":"MhyFUL2-3","col":"Flower","z":0.9},
{"gene":"MhySEP3","col":"Root","z":-1.8},{"gene":"MhySEP3","col":"Bract","z":-0.25},{"gene":"MhySEP3","col":"Flower","z":1.8},
{"gene":"MhySEP2","col":"Root","z":-1.15},{"gene":"MhySEP2","col":"Bract","z":-1.15},{"gene":"MhySEP2","col":"Flower","z":1.9},
{"gene":"MhyWUS1","col":"Root","z":-0.95},{"gene":"MhyWUS1","col":"Bract","z":-1.4},{"gene":"MhyWUS1","col":"Flower","z":1.9},
{"gene":"MhyWUS2","col":"Root","z":-1.1},{"gene":"MhyWUS2","col":"Bract","z":-1.25},{"gene":"MhyWUS2","col":"Flower","z":1.9},
{"gene":"MhyWOX2","col":"Root","z":0.6},{"gene":"MhyWOX2","col":"Bract","z":-2},{"gene":"MhyWOX2","col":"Flower","z":1.4},
{"gene":"MhyWOX4","col":"Root","z":1.9},{"gene":"MhyWOX4","col":"Bract","z":-1.2},{"gene":"MhyWOX4","col":"Flower","z":-1.2},
{"gene":"MhyWOX13","col":"Root","z":0.1},{"gene":"MhyWOX13","col":"Bract","z":1.7},{"gene":"MhyWOX13","col":"Flower","z":-1.95}
]},
"hconcat":[
{"spacing":-1,"hconcat":[
{"width":35.5,"height":20,"data":{"name":"key"},"mark":{"type":"rect","strokeWidth":0},
"encoding":{"x":{"field":"z","type":"quantitative","scale":{"domain":[-2.2,2],"nice":false,"zero":false},"axis":{"values":[-2,0,1,2],"domain":false,"grid":false,"tickSize":3,"tickColor":"#333","labelFontSize":10,"labelColor":"#222","labelPadding":1,"labelFlush":false,"title":"Row z-score","titleFontSize":9.5,"titleFontWeight":"normal","titleColor":"#222","titlePadding":3}},"x2":{"field":"z2"},"color":{"field":"z","type":"quantitative","scale":{"domain":[-2,0,2],"range":["#1f33f8","#ffffff","#f0ff00"],"interpolate":"rgb","clamp":true},"legend":null}}},
{"spacing":0,"vconcat":[
{"width":265.3,"height":62,"data":{"name":"dendA"},"mark":{"type":"rule","color":"#444","strokeWidth":1.1},
"encoding":{"x":{"field":"x","type":"quantitative","scale":{"domain":[0,6],"nice":false,"zero":false},"axis":null},"x2":{"field":"x2"},"y":{"field":"y","type":"quantitative","scale":{"domain":[0,62],"nice":false,"zero":false},"axis":null},"y2":{"field":"y2"}}},
{"width":265.3,"height":896,"data":{"name":"a"},"mark":{"type":"rect","strokeWidth":0.4},
"encoding":{"x":{"field":"col","type":"nominal","sort":null,"scale":{"paddingInner":0,"paddingOuter":0},"axis":{"orient":"bottom","title":"(a)","titleX":146.5,"titleY":49,"titleFontSize":12,"titleFontWeight":"normal","titleColor":"#222","labelAngle":-90,"labelAlign":"right","labelBaseline":"middle","labelFontSize":10,"labelColor":"#333","labelPadding":0,"ticks":false,"domain":false}},
"y":{"field":"gene","type":"nominal","sort":null,"scale":{"paddingInner":0,"paddingOuter":0},"axis":{"orient":"right","title":null,"labelFontSize":10,"labelColor":"#222","labelPadding":6.5,"labelLimit":200,"ticks":false,"domain":false,"labelOverlap":false}},
"color":{"field":"z","type":"quantitative","scale":{"domain":[-2,0,2],"range":["#1f33f8","#ffffff","#f0ff00"],"interpolate":"rgb","clamp":true},"legend":null},
"stroke":{"field":"z","type":"quantitative","scale":{"domain":[-2,0,2],"range":["#1f33f8","#ffffff","#f0ff00"],"interpolate":"rgb","clamp":true},"legend":null}}}
]}
]},
{"spacing":0,"vconcat":[
{"width":163.6,"height":72,"data":{"name":"dendB"},"mark":{"type":"rule","color":"#444","strokeWidth":1.1},
"encoding":{"x":{"field":"x","type":"quantitative","scale":{"domain":[0,3],"nice":false,"zero":false},"axis":null},"x2":{"field":"x2"},"y":{"field":"y","type":"quantitative","scale":{"domain":[0,72],"nice":false,"zero":false},"axis":null},"y2":{"field":"y2"}}},
{"width":163.6,"height":888,"data":{"name":"b"},"mark":{"type":"rect","strokeWidth":0.4},
"encoding":{"x":{"field":"col","type":"nominal","sort":null,"scale":{"paddingInner":0,"paddingOuter":0},"axis":{"orient":"bottom","title":"(b)","titleX":115,"titleY":48,"titleFontSize":12,"titleFontWeight":"normal","titleColor":"#222","labelAngle":-90,"labelAlign":"right","labelBaseline":"middle","labelFontSize":10,"labelColor":"#333","labelPadding":7,"ticks":false,"domain":false}},
"y":{"field":"gene","type":"nominal","sort":null,"scale":{"paddingInner":0,"paddingOuter":0},"axis":{"orient":"right","title":null,"labelFontSize":10,"labelColor":"#222","labelPadding":3,"labelLimit":200,"ticks":false,"domain":false,"labelOverlap":false}},
"color":{"field":"z","type":"quantitative","scale":{"domain":[-2,0,2],"range":["#1f33f8","#ffffff","#f0ff00"],"interpolate":"rgb","clamp":true},"legend":null},
"stroke":{"field":"z","type":"quantitative","scale":{"domain":[-2,0,2],"range":["#1f33f8","#ffffff","#f0ff00"],"interpolate":"rgb","clamp":true},"legend":null}}}
]}
]}
